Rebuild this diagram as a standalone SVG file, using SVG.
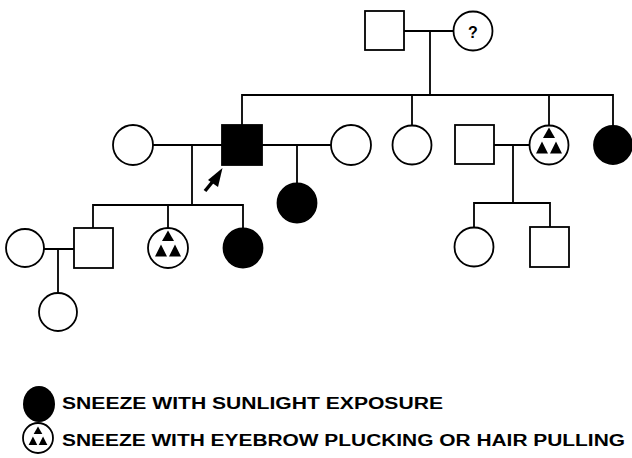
<svg xmlns="http://www.w3.org/2000/svg" width="632" height="458" viewBox="0 0 632 458">
<defs>
<style>
.ln{stroke:#000;stroke-width:1.8;fill:none;stroke-linecap:square}
.u{fill:#fff;stroke:#000;stroke-width:1.8}
.a{fill:#000;stroke:#000;stroke-width:1.8}
.lg{font-family:"Liberation Sans",Arial,sans-serif;font-weight:bold;font-size:16px;fill:#000}
</style>
<g id="tri">
<polygon points="0,-17.5 -6,-7 6,-7" fill="#000"/>
<polygon points="-7,-3.5 -13,8.5 -1,8.5" fill="#000"/>
<polygon points="7,-3.5 1,8.5 13,8.5" fill="#000"/>
</g>
</defs>
<rect width="632" height="458" fill="#fff"/>
<g id="connectors">
<path class="ln" d="M404,31H453.5M430,31V95M242,95H613M242,95V125M412,95V125.5M549,95V125.5M613,95V125.5"/>
<path class="ln" d="M153,145H222M262,145H331M494,145H529.5M192,145V205M297,145V183M513,145V203"/>
<path class="ln" d="M93,205H243M93,205V228M168,205V228M243,205V228M474,203H550M474,203V227M550,203V227"/>
<path class="ln" d="M44,249H74M58,249V293"/>
</g>
<g id="n-grandfather"><rect class="u" x="365" y="11" width="39" height="39"/></g>
<g id="n-grandmother"><circle class="u" cx="473" cy="31" r="19.5"/><text x="473" y="38" text-anchor="middle" class="lg" font-size="18">?</text></g>
<g id="n-proband"><rect class="a" x="222" y="125" width="40" height="40"/></g>
<g id="n-wife1"><circle class="u" cx="133" cy="145" r="20"/></g>
<g id="n-wife2"><circle class="u" cx="351" cy="145" r="20"/></g>
<g id="n-sister1"><circle class="u" cx="412" cy="145" r="19.5"/></g>
<g id="n-brotherinlaw"><rect class="u" x="455" y="125" width="39" height="39"/></g>
<g id="n-sister2"><circle class="u" cx="549" cy="145" r="19.5"/><use href="#tri" x="549" y="145"/></g>
<g id="n-sister3"><circle class="a" cx="613" cy="145" r="19"/></g>
<g id="n-daughter2"><circle class="a" cx="297" cy="203" r="19.5"/></g>
<g id="n-son1"><rect class="u" x="74" y="228" width="39" height="40"/></g>
<g id="n-daughter1a"><circle class="u" cx="168" cy="248" r="20"/><use href="#tri" x="168" y="248"/></g>
<g id="n-daughter1b"><circle class="a" cx="243" cy="248" r="19.5"/></g>
<g id="n-son1wife"><circle class="u" cx="25" cy="248" r="19"/></g>
<g id="n-grandchild"><circle class="u" cx="58" cy="312" r="19"/></g>
<g id="n-niece"><circle class="u" cx="474" cy="247" r="19.5"/></g>
<g id="n-nephew"><rect class="u" x="530" y="227" width="39" height="40"/></g>
<g id="arrow">
<line x1="205" y1="191" x2="214" y2="180" stroke="#000" stroke-width="3.5"/>
<polygon points="222.5,168 208,180 218,187" fill="#000"/>
</g>
<g id="legend">
<ellipse cx="39" cy="404" rx="16" ry="18" fill="#000"/>
<text class="lg" x="62" y="408.5" textLength="381" lengthAdjust="spacingAndGlyphs">SNEEZE WITH SUNLIGHT EXPOSURE</text>
<circle class="u" cx="38" cy="438" r="15" stroke-width="1.5"/>
<use href="#tri" transform="translate(38,439) scale(0.72)"/>
<text class="lg" x="62" y="445.5" textLength="563" lengthAdjust="spacingAndGlyphs">SNEEZE WITH EYEBROW PLUCKING OR HAIR PULLING</text>
</g>
</svg>
